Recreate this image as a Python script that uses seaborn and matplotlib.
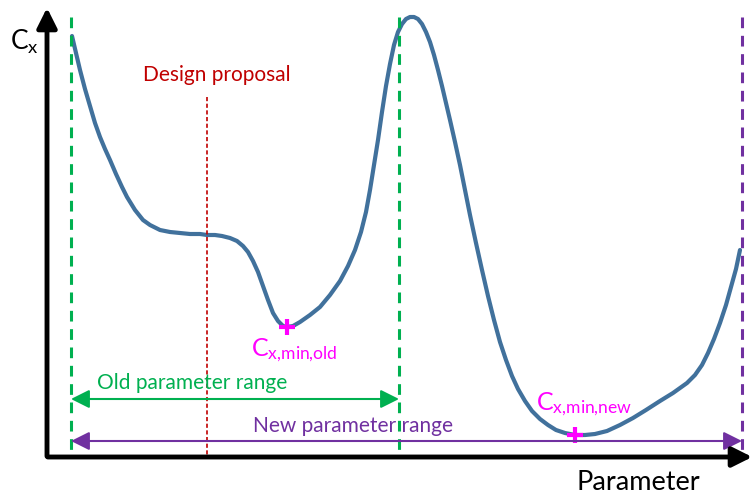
import numpy as np
import pandas as pd
import matplotlib
matplotlib.use('Agg')
import matplotlib.pyplot as plt
import seaborn as sns

sns.set_style('white')
plt.rcParams['font.family'] = ['Lato', 'DejaVu Sans']
plt.rcParams['mathtext.fontset'] = 'custom'
plt.rcParams['mathtext.rm'] = 'Lato'
plt.rcParams['mathtext.it'] = 'Lato'

# curve (pixel-like units, y grows downward)
param = [72, 76, 80, 85, 90, 95, 100, 105, 110, 116, 122, 127, 135, 143, 150,
         160, 170, 180, 190, 200, 207, 215, 222, 230, 237, 243, 248, 253, 258, 263,
         268, 273, 278, 283, 287, 293, 300, 310, 320, 330, 340, 348, 355, 361, 366,
         370, 374, 378, 382, 386, 390, 394, 398, 402, 406, 410, 414, 418, 422, 426,
         430, 434, 438, 442, 446, 450, 455, 460, 465, 470, 476, 482, 488, 494, 500,
         506, 512, 518, 525, 532, 540, 548, 556, 565, 575, 585, 595, 607, 620, 633,
         646, 660, 673, 687, 695, 702, 708, 714, 720, 726, 731, 736, 740]
cx = [36, 53, 70, 89, 106, 123, 137, 149, 160, 174, 187, 197, 210, 220, 225,
      230, 232, 233, 234, 234, 235, 235, 236, 238, 241, 246, 252, 261, 272, 286,
      300, 313, 321, 326, 327, 326, 322, 315, 307, 295, 281, 266, 250, 232, 212,
      190, 165, 140, 112, 86, 64, 45, 32, 24, 19, 17, 17, 19, 24, 32,
      42, 55, 70, 86, 103, 120, 142, 165, 190, 215, 243, 270, 296, 320, 342,
      360, 376, 389, 401, 411, 419, 425, 430, 433, 435, 435, 434, 431, 425, 418,
      410, 401, 393, 383, 375, 365, 353, 339, 323, 305, 287, 269, 250]

old_range = [71, 399]
new_range = [71, 742]
design_x = 207
min_old = (287, 327)
min_new = (575, 435)

blue = '#41719c'
green = '#00b050'
purple = '#7030a0'
red = '#c00000'
magenta = '#ff00ff'

fig = plt.figure(figsize=(7.55, 4.97), dpi=100)
ax = fig.add_axes([0, 0, 1, 1])
ax.set_xlim(0, 755)
ax.set_ylim(497, 0)
ax.axis('off')

df = pd.DataFrame({'Parameter': param, 'Cx': cx})
sns.lineplot(data=df, x='Parameter', y='Cx', ax=ax, color=blue, lw=3.0, sort=False)

# dashed range limits
for x in old_range:
    ax.plot([x, x], [17, 457], color=green, lw=2.2, ls=(0, (3.5, 2.5)))
ax.plot([new_range[1]] * 2, [17, 457], color=purple, lw=2.2, ls=(0, (3.5, 2.5)))
ax.plot([design_x] * 2, [97, 457], color=red, lw=1.2, ls=(0, (2.5, 1.5)))

# range arrows
ax.annotate('', xy=(old_range[0], 399), xytext=(old_range[1], 399),
            arrowprops=dict(arrowstyle='<|-|>', color=green, lw=1.5, mutation_scale=28,
                            shrinkA=0, shrinkB=0))
ax.annotate('', xy=(new_range[0], 441), xytext=(new_range[1], 441),
            arrowprops=dict(arrowstyle='<|-|>', color=purple, lw=1.5, mutation_scale=28,
                            shrinkA=0, shrinkB=0))
ax.text(192, 383, 'Old parameter range', color=green, fontsize=15, ha='center', va='center')
ax.text(353, 426, 'New parameter range', color=purple, fontsize=15, ha='center', va='center')
ax.text(217, 75, 'Design proposal', color=red, fontsize=15, ha='center', va='center')

# minima
ax.plot(*min_old, marker='+', color=magenta, ms=11, mew=3)
ax.plot(*min_new, marker='+', color=magenta, ms=11, mew=3)
ax.text(251, 350, r'C$_{\mathrm{x{,}min{,}old}}$', color=magenta, fontsize=18, ha='left', va='center')
ax.text(536, 404, r'C$_{\mathrm{x{,}min{,}new}}$', color=magenta, fontsize=18, ha='left', va='center')

# axes arrows
ax.annotate('', xy=(47, 5), xytext=(47, 459),
            arrowprops=dict(arrowstyle='-|>', color='black', lw=3.5, mutation_scale=30))
ax.annotate('', xy=(755, 457), xytext=(45, 457),
            arrowprops=dict(arrowstyle='-|>', color='black', lw=3.5, mutation_scale=30))
ax.text(10, 42, r'C$_{\mathrm{x}}$', color='black', fontsize=19, ha='left', va='center')
ax.text(638, 482, 'Parameter', color='black', fontsize=19.5, ha='center', va='center')

fig.savefig('out.png', dpi=100)
